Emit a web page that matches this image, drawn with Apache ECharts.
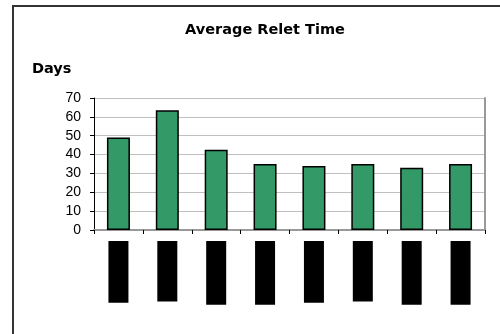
<!DOCTYPE html>
<html style="height: 100%">
<head>
    <meta charset="UTF-8">
    <title>Average Relet Time</title>
    <script src="https://cdn.jsdelivr.net/npm/echarts@6/dist/echarts.min.js"></script>
</head>
<body style="height: 100%; margin: 0; background: #fff; overflow: hidden">
    <div id="main" style="width: 500px; height: 334px"></div>
    <script type="text/javascript">
        var chart = echarts.init(document.getElementById('main'));

        // quarters (labels appear blacked out in the source)
        const categories = ['Apr-Jun 02', 'Jul-Sep 02', 'Oct-Dec 02', 'Jan-Mar 03',
                            'Apr-Jun 03', 'Jul-Sep 03', 'Oct-Dec 03', 'Jan-Mar 04'];
        const reletDays = [49, 63.5, 42.5, 35, 34, 35, 33, 35];
        const yTicks = {min: 0, max: 70, interval: 10};

        chart.setOption({
            animation: false,
            title: {
                text: 'Average Relet Time',
                left: 260,
                top: 18,
                textAlign: 'center',
                textStyle: {fontFamily: 'DejaVu Sans', fontWeight: 'bold', fontSize: 14.5, color: '#000'}
            },
            graphic: [
                // outer frame: left and top edges only
                {type: 'line', shape: {x1: 13, y1: 5, x2: 13, y2: 334},
                 style: {stroke: '#333', lineWidth: 2}, silent: true},
                {type: 'line', shape: {x1: 12, y1: 6, x2: 500, y2: 6},
                 style: {stroke: '#333', lineWidth: 2}, silent: true},
                {type: 'text', left: 32, top: 62,
                 style: {text: 'Days', font: 'bold 14.5px "DejaVu Sans"', fill: '#000'}}
            ],
            grid: {left: 94, right: 15, top: 98, bottom: 104},
            xAxis: [{
                type: 'category',
                data: categories,
                axisLine: {lineStyle: {color: '#000', width: 1}},
                axisTick: {show: true, length: 4, lineStyle: {color: '#000'}},
                axisLabel: {
                    rotate: 90,
                    margin: 11,
                    interval: 0,
                    fontFamily: 'Liberation Sans',
                    fontSize: 11,
                    lineHeight: 14,
                    color: '#000',
                    backgroundColor: '#000',
                    padding: [3, 4]
                }
            }, {
                type: 'category',
                position: 'top',
                data: categories,
                axisLine: {lineStyle: {color: '#999', width: 2}},
                axisTick: {show: false},
                axisLabel: {show: false}
            }],
            yAxis: [{
                type: 'value',
                min: yTicks.min,
                max: yTicks.max,
                interval: yTicks.interval,
                axisLine: {show: true, lineStyle: {color: '#000', width: 1}},
                axisTick: {show: true, length: 4, lineStyle: {color: '#000'}},
                axisLabel: {margin: 13, fontFamily: 'Liberation Sans', fontSize: 14, color: '#000'},
                splitLine: {lineStyle: {color: '#c0c0c0', width: 1}}
            }, {
                type: 'value',
                position: 'right',
                min: yTicks.min,
                max: yTicks.max,
                interval: yTicks.interval,
                axisLine: {show: true, lineStyle: {color: '#999', width: 2}},
                axisTick: {show: false},
                axisLabel: {show: false},
                splitLine: {show: false}
            }],
            series: [{
                type: 'bar',
                data: reletDays,
                barWidth: 23,
                itemStyle: {color: '#339966', borderColor: '#000', borderWidth: 1.5}
            }]
        });
    </script>
</body>
</html>
